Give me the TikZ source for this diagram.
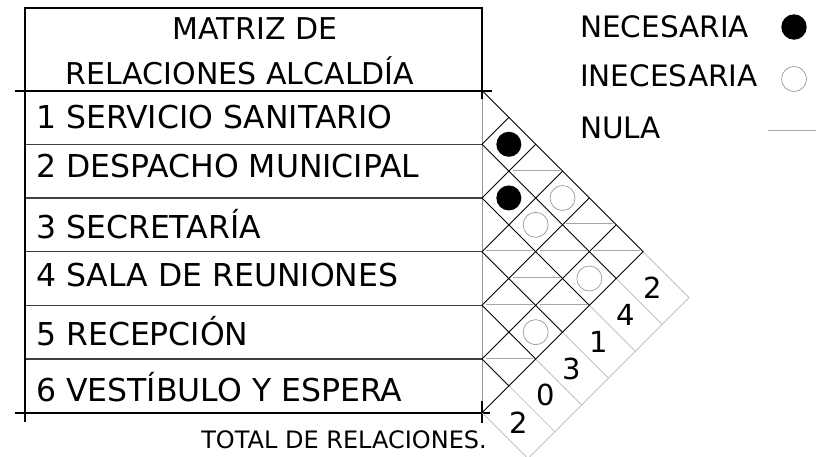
\documentclass[tikz,border=0pt]{standalone}
\usepackage{fontspec}
\setmainfont{DejaVu Sans}
\begin{document}
\begin{tikzpicture}[x=1pt,y=-1pt,
  txt/.style={inner sep=0pt, font=\fontsize{31.5}{36}\selectfont, anchor=base west},
  legtxt/.style={inner sep=0pt, font=\fontsize{29.5}{34}\selectfont, anchor=base west},
  ctxt/.style={inner sep=0pt, font=\fontsize{30}{34}\selectfont, anchor=base},
  numtxt/.style={inner sep=0pt, font=\fontsize{29}{34}\selectfont, anchor=center},
  frame/.style={line width=2pt, black},
  rowline/.style={line width=1.3pt, black!75},
  edgegrey/.style={line width=0.8pt, black!40},
  gridline/.style={line width=0.9pt, black},
  stripline/.style={line width=0.7pt, black!28},
  nulaline/.style={line width=0.9pt, black!35},
  inec/.style={line width=0.7pt, black!40},
  nec/.style={fill=black},
]
\useasboundingbox (0,0) rectangle (816,456);
\fill[white] (0,0) rectangle (816,456);

% ---------- table ----------
\draw[edgegrey] (482,90.6) -- (482,412.7);
\foreach \k in {1,...,5}
  \draw[rowline] (25,{90.6+\k*53.68}) -- (482,{90.6+\k*53.68});
\draw[frame] (25,422) -- (25,7.5) -- (482,7.5) -- (482,99);
\draw[frame] (15,90.6) -- (492,90.6);
\draw[frame] (15,412.7) -- (490,412.7);
\draw[frame] (482,401) -- (482,423);

\node[ctxt] (title1) at (255,39) {MATRIZ DE};
\node[ctxt] (title2) at (240,84) {RELACIONES ALCALDÍA};
\node[txt] (r1) at (36,128) {1 SERVICIO SANITARIO};
\node[txt] (r2) at (36,177) {2 DESPACHO MUNICIPAL};
\node[txt] (r3) at (36,238) {3 SECRETARÍA};
\node[txt] (r4) at (36,286) {4 SALA DE REUNIONES};
\node[txt] (r5) at (36,345) {5 RECEPCIÓN};
\node[txt] (r6) at (36,401.5) {6 VESTÍBULO Y ESPERA};
\node[inner sep=0pt, font=\fontsize{24}{28}\selectfont, anchor=base east] (total) at (487,448) {TOTAL DE RELACIONES.};

% ---------- totals strip ----------
\foreach \m in {0,...,6}
  \draw[stripline] ({482+(6-\m)*26.84},{90.6+(6+\m)*26.84}) -- ++(46,46);
\draw[stripline] ({482+6*26.84+46},{90.6+6*26.84+46}) -- ({482+46},{90.6+12*26.84+46});
\foreach \k/\v in {1/2,2/4,3/1,4/3,5/0,6/2}
  \node[numtxt] (t\k) at ({482+(6.5-\k)*26.84+23},{90.6+(5.5+\k)*26.84+23}) {\v};

% ---------- diamond grid ----------
\foreach \m in {1,...,5} {
  \draw[gridline] (482,{90.6+\m*53.68}) -- ({482+\m*26.84},{90.6+\m*26.84});
  \draw[gridline] (482,{90.6+\m*53.68}) -- ({482+(6-\m)*26.84},{90.6+(6+\m)*26.84});
}
\draw[gridline] (482,90.6) -- ({482+6*26.84},{90.6+6*26.84}) -- (482,412.68);

% ---------- cell contents ----------
\foreach \i/\j in {1/2,2/3}
  \fill[nec] ({482+(\j-\i)*26.84},{90.6+(\i+\j-1)*26.84}) circle (12.5);
\foreach \i/\j in {1/4,2/4,2/6,4/6}
  \draw[inec] ({482+(\j-\i)*26.84},{90.6+(\i+\j-1)*26.84}) circle (12.5);
\foreach \i/\j in {1/3,1/5,1/6,2/5,3/4,3/5,3/6,4/5,5/6}
  \draw[nulaline] ({482+(\j-\i)*26.84-23},{90.6+(\i+\j-1)*26.84-1}) -- ++(47,0);

% ---------- legend ----------
\node[legtxt] (leg1) at (580,37) {NECESARIA};
\node[legtxt] (leg2) at (580,86) {INECESARIA};
\node[legtxt] (leg3) at (580,138) {NULA};
\fill[nec] (794,27) circle (12.7);
\draw[inec] (794,79) circle (12.5);
\draw[nulaline] (768,130) -- (816,130);
\end{tikzpicture}
\end{document}
